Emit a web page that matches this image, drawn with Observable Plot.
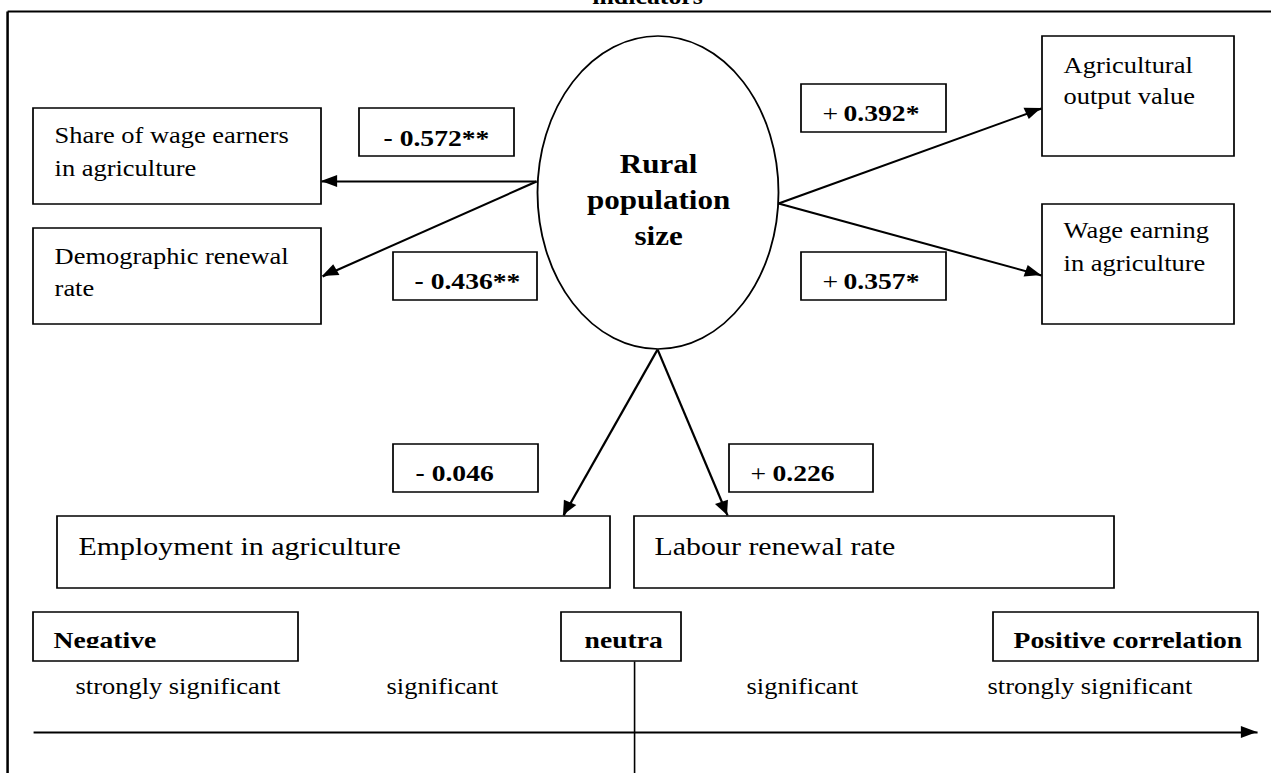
<!DOCTYPE html>
<html><head><meta charset="utf-8">
<script src="https://cdn.jsdelivr.net/npm/d3@7"></script>
<script src="https://cdn.jsdelivr.net/npm/@observablehq/plot@0.6"></script>
<style>html,body{margin:0;padding:0;background:#fff;overflow:hidden}#chart{width:1271px;height:773px}</style>
</head><body><div id="chart"></div>
<script>
// ---------------- data (labels and values) ----------------
const title = "indicators";
const centre = ["Rural", "population", "size"];
const indicators = ["Share of wage earners in agriculture", "Demographic renewal rate",
  "Agricultural output value", "Wage earning in agriculture",
  "Employment in agriculture", "Labour renewal rate"];
const indicatorLines = [["Share of wage earners", "in agriculture"], ["Demographic renewal", "rate"],
  ["Agricultural", "output value"], ["Wage earning", "in agriculture"],
  ["Employment in agriculture"], ["Labour renewal rate"]];
const coefSign = ["-", "-", "+", "+", "-", "+"];
const coefValue = ["0.572**", "0.436**", "0.392*", "0.357*", "0.046", "0.226"];
const scaleHeads = ["Negative", "neutra", "Positive correlation"];
const scaleLevels = ["strongly significant", "significant", "significant", "strongly significant"];

// ---------------- layout (positions in picture pixels) ----------------
const S = 1.15, W = 1271, H = 773, Wi = Math.round(W / S);
const FONT = "Liberation Serif, Times New Roman, serif";
const nodeBox = [[33,321,108,204],[33,321,228,324],[1042,1234,36,156],[1042,1234,204,324],[57,610,516,588],[634,1114,516,588]];
const nodeTextX = [54,54,1063,1063,78,654];
const nodeTextY = [[142,175],[263,295],[72,103],[237,270],[554],[554]];
const nodeFont = [23,23,23,23,26,26];
const coefBox = [[359,514,108,156],[393,537,252,300],[801,946,84,132],[801,946,252,300],[393,538,444,492],[729,873,444,492]];
const coefSignX = [383,414,822,822,415,750];
const coefValueX = [null,null,843,843,null,772];
const coefBaseline = [145,288,120,288,480,480];
const arrowFrom = [[536,181],[536,181],[778,203],[778,203],[657,349],[657,349]];
const arrowTo = [[321,181],[322,276],[1041,108],[1041,275],[563,515],[727,515]];
const ell = {cx: 658, cy: 192.5, rx: 120.5, ry: 156.5};
const centreX = 658, centreY = [172, 208, 244];
const legendBox = [[33,298,612,661],[561,681,612,661],[993,1258,612,661]];
const legendTextX = [53,584,1013], legendBaseline = 647;
const levelX = [75,386,746,987], levelBaseline = 693;
const axisY = 732, axisX = [33,1257], neutralX = 634, neutralY = [661,773];
const frameTop = 11, frameLeft = 7;

// ---------------- tables ----------------
const nodeRects = nodeBox.map(([x1,x2,y1,y2], i) => ({x1, x2, y1, y2, name: indicators[i]}));
const nodeLineData = indicatorLines.flatMap((lines, i) => lines.map((t, j) => ({text: t, x: nodeTextX[i], y: nodeTextY[i][j], big: nodeFont[i] > 24})));
const coefRects = coefBox.map(([x1,x2,y1,y2], i) => ({x1, x2, y1, y2}));
const coefNeg = coefSign.map((s, i) => ({s, i})).filter(d => d.s === "-").map(({i}) => ({text: "- " + coefValue[i], x: coefSignX[i], y: coefBaseline[i]}));
const coefPosSign = coefSign.map((s, i) => ({s, i})).filter(d => d.s === "+").map(({i}) => ({text: "+", x: coefSignX[i], y: coefBaseline[i]}));
const coefPosVal = coefSign.map((s, i) => ({s, i})).filter(d => d.s === "+").map(({i}) => ({text: coefValue[i], x: coefValueX[i], y: coefBaseline[i]}));
const arrows = arrowFrom.map((f, i) => ({x1: f[0], y1: f[1], x2: arrowTo[i][0], y2: arrowTo[i][1]}));
arrows.push({x1: axisX[0], y1: axisY, x2: axisX[1], y2: axisY});
const legendRects = legendBox.map(([x1,x2,y1,y2], i) => ({x1, x2, y1, y2, name: scaleHeads[i]}));
const legendMask = legendBox.map(([x1,x2,y1,y2]) => ({x1: x1 + 1.5, x2: x2 - 1.5, y1: legendBaseline + 1, y2: y2 - 1}));
const legendText = scaleHeads.map((t, i) => ({text: t, x: legendTextX[i], y: legendBaseline}));
const levelText = scaleLevels.map((t, i) => ({text: t, x: levelX[i], y: levelBaseline}));
const centreText = centre.map((t, i) => ({text: t, x: centreX, y: centreY[i]}));

const NS = "http://www.w3.org/2000/svg";
function arrowHeads(data, L, w) {
  return (index, scales) => {
    const g = document.createElementNS(NS, "g");
    for (const d of data) {
      const X1 = scales.x(d.x1), Y1 = scales.y(d.y1), X2 = scales.x(d.x2), Y2 = scales.y(d.y2);
      const len = Math.hypot(X2 - X1, Y2 - Y1), ux = (X2 - X1) / len, uy = (Y2 - Y1) / len;
      const bx = X2 - ux * L, by = Y2 - uy * L;
      const p = document.createElementNS(NS, "path");
      p.setAttribute("d", `M${X2},${Y2}L${bx - uy * w},${by + ux * w}L${bx + uy * w},${by - ux * w}Z`);
      p.setAttribute("fill", "black");
      g.appendChild(p);
    }
    return g;
  };
}
function ellipseMark(e) {
  return (index, scales) => {
    const el = document.createElementNS(NS, "ellipse");
    const cx = scales.x(e.cx), cy = scales.y(e.cy);
    el.setAttribute("cx", cx);
    el.setAttribute("cy", cy);
    el.setAttribute("rx", scales.x(e.cx + e.rx) - cx);
    el.setAttribute("ry", scales.y(e.cy + e.ry) - cy);
    el.setAttribute("fill", "white");
    el.setAttribute("stroke", "black");
    el.setAttribute("stroke-width", 1.6);
    return el;
  };
}
const txt = (data, size, weight, anchor = "start") => Plot.text(data, {
  x: "x", y: "y", text: "text", textAnchor: anchor, lineAnchor: "bottom",
  fontFamily: FONT, fontSize: size, fontWeight: weight, fill: "black"
});

const chart = Plot.plot({
  width: Wi, height: H, margin: 0,
  x: {domain: [0, W], range: [0, Wi], axis: null},
  y: {domain: [0, H], range: [0, H], axis: null},
  style: {background: "white"},
  marks: [
    // outer frame
    Plot.link([{x1: frameLeft, y1: frameTop, x2: W, y2: frameTop}, {x1: frameLeft, y1: frameTop, x2: frameLeft, y2: H}],
      {x1: "x1", y1: "y1", x2: "x2", y2: "y2", stroke: "black", strokeWidth: 2.2}),
    Plot.text([{text: title, x: 647, y: 3}], {x: "x", y: "y", text: "text", lineAnchor: "bottom", fontFamily: FONT, fontSize: 22.5, fontWeight: "bold"}),
    // arrows
    Plot.link(arrows, {x1: "x1", y1: "y1", x2: "x2", y2: "y2", stroke: "black", strokeWidth: 2}),
    arrowHeads(arrows, 14, 6),
    // neutral line
    Plot.link([{x1: neutralX, y1: neutralY[0], x2: neutralX, y2: neutralY[1]}], {x1: "x1", y1: "y1", x2: "x2", y2: "y2", stroke: "black", strokeWidth: 1.4}),
    // centre ellipse
    ellipseMark(ell),
    txt(centreText, 27, "bold", "middle"),
    // indicator boxes
    Plot.rect(nodeRects, {x1: "x1", x2: "x2", y1: "y1", y2: "y2", fill: "white", stroke: "black", strokeWidth: 1.5}),
    txt(nodeLineData.filter(d => !d.big), 23, "normal"),
    txt(nodeLineData.filter(d => d.big), 26, "normal"),
    // coefficient boxes
    Plot.rect(coefRects, {x1: "x1", x2: "x2", y1: "y1", y2: "y2", fill: "white", stroke: "black", strokeWidth: 1.5}),
    txt(coefNeg, 24, "bold"),
    txt(coefPosSign, 24, "normal"),
    txt(coefPosVal, 24, "bold"),
    // legend
    Plot.rect(legendRects, {x1: "x1", x2: "x2", y1: "y1", y2: "y2", fill: "white"}),
    txt(legendText, 24, "bold"),
    Plot.rect(legendMask, {x1: "x1", x2: "x2", y1: "y1", y2: "y2", fill: "white"}),
    Plot.rect(legendRects, {x1: "x1", x2: "x2", y1: "y1", y2: "y2", fill: "none", stroke: "black", strokeWidth: 1.5}),
    txt(levelText, 23, "normal")
  ]
});
chart.setAttribute("width", W);
chart.setAttribute("height", H);
chart.setAttribute("preserveAspectRatio", "none");
chart.style.width = W + "px";
chart.style.height = H + "px";
chart.style.maxWidth = "none";
document.getElementById("chart").appendChild(chart);
</script>
</body></html>
